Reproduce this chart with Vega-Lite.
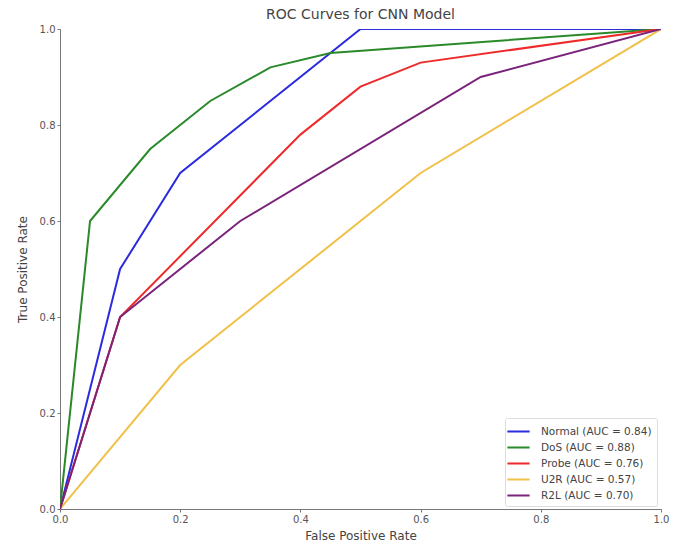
{
  "$schema": "https://vega.github.io/schema/vega-lite/v6.json",
  "width": 601,
  "height": 480,
  "autosize": {"type": "none"},
  "padding": {"left": 60, "top": 29, "right": 19, "bottom": 37},
  "background": "white",
  "config": {
    "font": "DejaVu Sans",
    "view": {"stroke": null},
    "title": {"fontSize": 14, "fontWeight": "normal", "color": "#444444", "offset": 2}
  },
  "title": {"text": "ROC Curves for CNN Model"},
  "data": {
    "values": [
      {"s": "Normal (AUC = 0.84)", "fpr": 0.0, "tpr": 0.0},
      {"s": "Normal (AUC = 0.84)", "fpr": 0.1, "tpr": 0.5},
      {"s": "Normal (AUC = 0.84)", "fpr": 0.2, "tpr": 0.7},
      {"s": "Normal (AUC = 0.84)", "fpr": 0.5, "tpr": 1.0},
      {"s": "Normal (AUC = 0.84)", "fpr": 1.0, "tpr": 1.0},
      {"s": "DoS (AUC = 0.88)", "fpr": 0.0, "tpr": 0.0},
      {"s": "DoS (AUC = 0.88)", "fpr": 0.05, "tpr": 0.6},
      {"s": "DoS (AUC = 0.88)", "fpr": 0.15, "tpr": 0.75},
      {"s": "DoS (AUC = 0.88)", "fpr": 0.25, "tpr": 0.85},
      {"s": "DoS (AUC = 0.88)", "fpr": 0.35, "tpr": 0.92},
      {"s": "DoS (AUC = 0.88)", "fpr": 0.45, "tpr": 0.95},
      {"s": "DoS (AUC = 0.88)", "fpr": 1.0, "tpr": 1.0},
      {"s": "Probe (AUC = 0.76)", "fpr": 0.0, "tpr": 0.0},
      {"s": "Probe (AUC = 0.76)", "fpr": 0.1, "tpr": 0.4},
      {"s": "Probe (AUC = 0.76)", "fpr": 0.4, "tpr": 0.78},
      {"s": "Probe (AUC = 0.76)", "fpr": 0.5, "tpr": 0.88},
      {"s": "Probe (AUC = 0.76)", "fpr": 0.6, "tpr": 0.93},
      {"s": "Probe (AUC = 0.76)", "fpr": 1.0, "tpr": 1.0},
      {"s": "U2R (AUC = 0.57)", "fpr": 0.0, "tpr": 0.0},
      {"s": "U2R (AUC = 0.57)", "fpr": 0.2, "tpr": 0.3},
      {"s": "U2R (AUC = 0.57)", "fpr": 0.6, "tpr": 0.7},
      {"s": "U2R (AUC = 0.57)", "fpr": 1.0, "tpr": 1.0},
      {"s": "R2L (AUC = 0.70)", "fpr": 0.0, "tpr": 0.0},
      {"s": "R2L (AUC = 0.70)", "fpr": 0.1, "tpr": 0.4},
      {"s": "R2L (AUC = 0.70)", "fpr": 0.3, "tpr": 0.6},
      {"s": "R2L (AUC = 0.70)", "fpr": 0.7, "tpr": 0.9},
      {"s": "R2L (AUC = 0.70)", "fpr": 1.0, "tpr": 1.0}
    ]
  },
  "mark": {"type": "line", "strokeWidth": 2, "clip": true},
  "encoding": {
    "x": {
      "field": "fpr", "type": "quantitative",
      "scale": {"domain": [0, 1], "nice": false, "zero": false},
      "axis": {
        "title": "False Positive Rate", "titleFontSize": 12, "titleFontWeight": "normal", "titleColor": "#444444", "titlePadding": 6,
        "grid": false, "values": [0, 0.2, 0.4, 0.6, 0.8, 1.0], "format": ".1f",
        "labelFontSize": 10, "labelColor": "#555555", "labelFlush": false,
        "domainColor": "#777777", "tickColor": "#777777", "tickSize": 3
      }
    },
    "y": {
      "field": "tpr", "type": "quantitative",
      "scale": {"domain": [0, 1], "nice": false, "zero": false},
      "axis": {
        "title": "True Positive Rate", "titleFontSize": 12, "titleFontWeight": "normal", "titleColor": "#444444", "titlePadding": 10,
        "grid": false, "values": [0, 0.2, 0.4, 0.6, 0.8, 1.0], "format": ".1f",
        "labelFontSize": 10, "labelColor": "#555555", "labelFlush": false,
        "domainColor": "#777777", "tickColor": "#777777", "tickSize": 3
      }
    },
    "color": {
      "field": "s", "type": "nominal",
      "scale": {
        "domain": ["Normal (AUC = 0.84)", "DoS (AUC = 0.88)", "Probe (AUC = 0.76)", "U2R (AUC = 0.57)", "R2L (AUC = 0.70)"],
        "range": ["#2b2bdd", "#2a8a2a", "#ee2a2a", "#f0c048", "#7a237a"]
      },
      "legend": {
        "title": null, "orient": "none", "legendX": 445, "legendY": 389,
        "symbolType": "M-1.5,0H1.5", "symbolStrokeWidth": 2, "symbolSize": 220,
        "labelFontSize": 10.5, "labelColor": "#444444", "labelOffset": 14,
        "fillColor": "white", "strokeColor": "#dddddd", "padding": 5, "rowPadding": 2, "cornerRadius": 2
      }
    }
  }
}
